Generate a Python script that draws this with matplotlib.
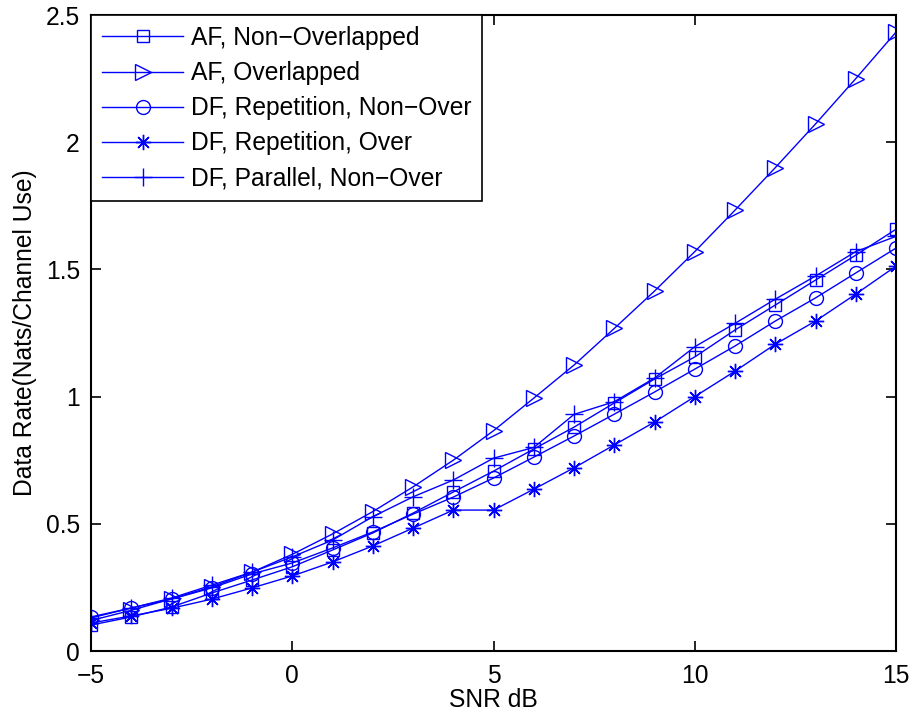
import matplotlib

matplotlib.use("Agg")
import matplotlib.pyplot as plt

# SNR ekseni (dB)
snr_db = [-5, -4, -3, -2, -1, 0, 1, 2, 3, 4, 5, 6, 7, 8, 9, 10, 11, 12, 13, 14, 15]

# Her seri icin okunan veri hizi (Nats/Channel Use)
af_non_overlapped = [0.102, 0.134, 0.173, 0.228, 0.279, 0.331, 0.397, 0.464, 0.542, 0.625,
                     0.707, 0.794, 0.880, 0.975, 1.069, 1.156, 1.262, 1.360, 1.458, 1.556, 1.658]
af_overlapped = [0.120, 0.160, 0.205, 0.252, 0.310, 0.380, 0.460, 0.548, 0.645, 0.750,
                 0.866, 0.994, 1.124, 1.268, 1.415, 1.570, 1.733, 1.900, 2.072, 2.250, 2.433]
df_rep_non_over = [0.134, 0.169, 0.204, 0.248, 0.303, 0.346, 0.405, 0.468, 0.538, 0.605,
                   0.680, 0.762, 0.845, 0.931, 1.018, 1.108, 1.199, 1.297, 1.388, 1.486, 1.584]
df_rep_over = [0.110, 0.138, 0.168, 0.204, 0.248, 0.295, 0.350, 0.413, 0.483, 0.554,
               0.554, 0.636, 0.720, 0.810, 0.900, 1.000, 1.100, 1.206, 1.297, 1.403, 1.513]
df_parallel_non_over = [0.130, 0.169, 0.208, 0.259, 0.310, 0.370, 0.436, 0.528, 0.606, 0.672,
                        0.758, 0.800, 0.930, 0.980, 1.073, 1.196, 1.288, 1.383, 1.474, 1.570, 1.630]

labels = ["AF, Non\u2212Overlapped", "AF, Overlapped", "DF, Repetition, Non\u2212Over",
          "DF, Repetition, Over", "DF, Parallel, Non\u2212Over"]
series = [af_non_overlapped, af_overlapped, df_rep_non_over, df_rep_over, df_parallel_non_over]
markers = ["s", ">", "o", (8, 2, 0), "+"]
msizes = [8.5, 11, 10, 11, 13]

plt.rcParams["font.family"] = ["Liberation Sans", "DejaVu Sans"]
plt.rcParams["font.size"] = 17.7

fig = plt.figure(figsize=(9.12, 7.15), dpi=100)
ax = fig.add_axes([0.0998, 0.0895, 0.8827, 0.8895])

for y, lab, m, ms in zip(series, labels, markers, msizes):
    ax.plot(snr_db, y, color="#0000ff", linewidth=1.0, marker=m, markersize=ms,
            markerfacecolor="none", markeredgecolor="#0000ff", markeredgewidth=1.0,
            label=lab)

ax.set_xlim(-5, 15)
ax.set_ylim(0, 2.5)
ax.set_xticks([-5, 0, 5, 10, 15])
ax.set_yticks([0, 0.5, 1, 1.5, 2, 2.5])
ax.set_yticklabels(["0", "0.5", "1", "1.5", "2", "2.5"])
ax.tick_params(direction="in", top=True, right=True, length=7, width=1.2)
ax.tick_params(axis="x", pad=9)
ax.tick_params(axis="y", pad=8)
for sp in ax.spines.values():
    sp.set_linewidth(1.5)

ax.set_xlabel("SNR dB", labelpad=0)
ax.set_ylabel("Data Rate(Nats/Channel Use)", labelpad=6)

leg = ax.legend(loc="upper left", borderaxespad=0, fancybox=False, edgecolor="black",
                framealpha=1, handlelength=3.3, handletextpad=0.3, labelspacing=0.45,
                borderpad=0.45)
leg.get_frame().set_linewidth(1.2)

fig.savefig("out.png", dpi=100)
